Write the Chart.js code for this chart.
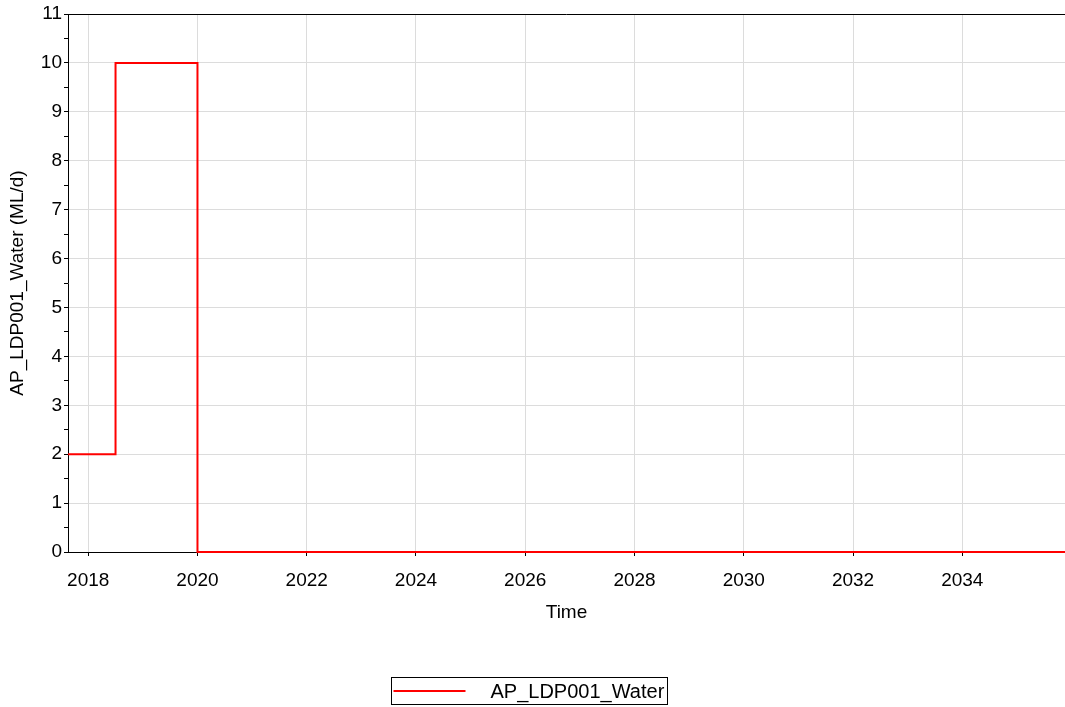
<!DOCTYPE html>
<html>
<head>
<meta charset="utf-8">
<title>AP_LDP001_Water</title>
<script src="https://cdn.jsdelivr.net/npm/chart.js@4.4.1/dist/chart.umd.min.js"></script>
<style>
  html, body { margin: 0; padding: 0; background: #ffffff; }
  #wrap { position: relative; width: 1065px; height: 707px; }
</style>
</head>
<body>
<div id="wrap"><canvas id="chart" width="1065" height="707"></canvas></div>
<script>
// Step series: each value holds from its time until the next time (decimal years)
const stepTimes  = [2017.63, 2018.5, 2020.0, 2035.88];
const stepValues = [2, 10, 0, 0];
const seriesName = 'AP_LDP001_Water';
const yTitle = 'AP_LDP001_Water (ML/d)';
const xTitle = 'Time';
const xRange = [2017.63, 2035.88];
const yRange = [0, 11];

const FONT = '"Liberation Sans", Arial, Helvetica, sans-serif';

const points = stepTimes.map((t, i) => ({ x: t, y: stepValues[i] }));

// Top frame line of the plot area
const frameTop = {
  id: 'frameTop',
  afterDraw(chart) {
    const { ctx, chartArea } = chart;
    ctx.save();
    ctx.strokeStyle = '#000';
    ctx.lineWidth = 1;
    ctx.beginPath();
    ctx.moveTo(chartArea.left, Math.round(chartArea.top) + 0.5);
    ctx.lineTo(chartArea.right, Math.round(chartArea.top) + 0.5);
    ctx.stroke();
    ctx.restore();
  }
};

// Framed legend centred under the axis
const framedLegend = {
  id: 'framedLegend',
  afterDraw(chart) {
    const { ctx } = chart;
    const ds = chart.data.datasets[0];
    ctx.save();
    ctx.font = '20px ' + FONT;
    const textW = ctx.measureText(ds.label).width;
    const sample = 72, gap = 25, padL = 2, padR = 3;
    const w = padL + sample + gap + textW + padR;
    const h = 27;
    const x0 = Math.round(chart.width / 2 - w / 2 - 4) + 0.5;
    const y0 = 677.5;
    ctx.strokeStyle = '#000';
    ctx.lineWidth = 1;
    ctx.strokeRect(x0, y0, Math.round(w), h);
    const cy = y0 + h / 2;
    ctx.strokeStyle = ds.borderColor;
    ctx.lineWidth = 2;
    ctx.beginPath();
    ctx.moveTo(x0 + padL, cy);
    ctx.lineTo(x0 + padL + sample, cy);
    ctx.stroke();
    ctx.fillStyle = '#000';
    ctx.textBaseline = 'middle';
    ctx.textAlign = 'left';
    ctx.fillText(ds.label, x0 + padL + sample + gap, cy + 1);
    ctx.restore();
  }
};

new Chart(document.getElementById('chart'), {
  type: 'line',
  data: {
    datasets: [{
      label: seriesName,
      data: points,
      borderColor: '#ff0000',
      backgroundColor: '#ff0000',
      borderWidth: 2,
      pointRadius: 0,
      stepped: 'before',
      fill: false,
      clip: 3
    }]
  },
  options: {
    responsive: false,
    animation: false,
    devicePixelRatio: 1,
    layout: { padding: { top: 14, right: 0, left: 0, bottom: 75 } },
    plugins: {
      legend: { display: false },
      tooltip: { enabled: false }
    },
    scales: {
      x: {
        type: 'linear',
        min: xRange[0],
        max: xRange[1],
        afterFit(scale) { scale.height = 80; },
        border: { display: true, color: '#000', width: 1 },
        grid: { color: '#dcdcdc', tickColor: '#000', tickLength: 4, drawTicks: true },
        ticks: {
          stepSize: 2,
          includeBounds: false,
          autoSkip: false,
          maxRotation: 0,
          padding: 13,
          color: '#000',
          font: { family: FONT, size: 19 },
          callback: v => String(v)
        },
        title: {
          display: true,
          text: xTitle,
          color: '#000',
          font: { family: FONT, size: 19 },
          padding: { top: 0, bottom: 8 }
        }
      },
      y: {
        type: 'linear',
        min: yRange[0],
        max: yRange[1],
        afterFit(scale) { scale.width = 68; },
        border: { display: true, color: '#000', width: 1 },
        grid: {
          color: ctx => (ctx.tick && Number.isInteger(ctx.tick.value)) ? '#dcdcdc' : 'rgba(0,0,0,0)',
          tickColor: '#000',
          tickLength: 4
        },
        ticks: {
          stepSize: 0.5,
          autoSkip: false,
          padding: 2,
          color: '#000',
          font: { family: FONT, size: 19 },
          callback: v => Number.isInteger(v) ? String(v) : ''
        },
        title: {
          display: true,
          text: yTitle,
          color: '#000',
          font: { family: FONT, size: 19 },
          padding: { top: 6, bottom: 0 }
        }
      }
    }
  },
  plugins: [frameTop, framedLegend]
});
</script>
</body>
</html>
